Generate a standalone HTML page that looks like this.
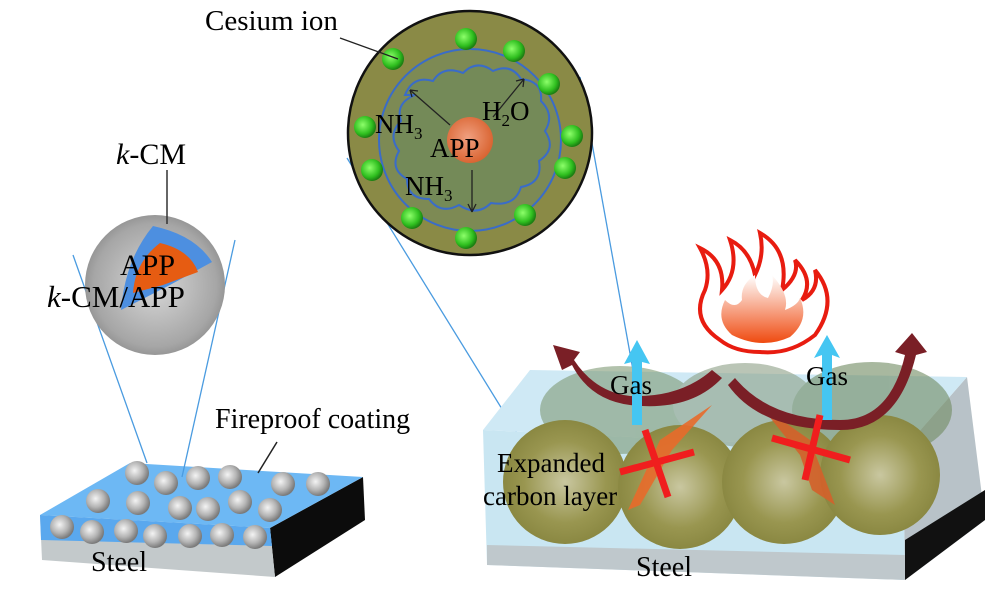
<!DOCTYPE html>
<html><head><meta charset="utf-8"><style>
html,body{margin:0;padding:0;background:#fff;}
svg{display:block;font-family:"Liberation Serif",serif;}
</style></head><body>
<svg width="1000" height="593" viewBox="0 0 1000 593" xmlns="http://www.w3.org/2000/svg">
<defs>
<radialGradient id="gs" cx="40%" cy="40%" r="60%"><stop offset="0" stop-color="#f4f4f4"/><stop offset="0.6" stop-color="#b4b4b4"/><stop offset="1" stop-color="#7a7a7a"/></radialGradient>
<radialGradient id="big" cx="50%" cy="50%" r="55%"><stop offset="0" stop-color="#d8d8d8"/><stop offset="0.8" stop-color="#a6a6a6"/><stop offset="1" stop-color="#8a8a8a"/></radialGradient>
<radialGradient id="gr" cx="40%" cy="40%" r="60%"><stop offset="0" stop-color="#8dff6a"/><stop offset="0.7" stop-color="#2fbf1f"/><stop offset="1" stop-color="#1c7f12"/></radialGradient>
<radialGradient id="or" cx="45%" cy="45%" r="60%"><stop offset="0" stop-color="#f0a080"/><stop offset="1" stop-color="#d8602c"/></radialGradient>
<radialGradient id="cb" cx="50%" cy="50%" r="55%"><stop offset="0" stop-color="#c9c7a0"/><stop offset="0.6" stop-color="#999650"/><stop offset="1" stop-color="#86843e"/></radialGradient>
<linearGradient id="fl" x1="0" y1="0" x2="0" y2="1"><stop offset="0" stop-color="#fff"/><stop offset="1" stop-color="#ef4a10"/></linearGradient>
</defs>

<polygon points="270,528 363,477 365,520 275,577" fill="#0c0c0c"/>
<polygon points="40,515 270,528 275,577 42,560" fill="#c3c9cb"/>
<polygon points="40,515 270,528 272,546 41,540" fill="#5aa8ee"/>
<polygon points="40,515 130,463 363,477 270,528" fill="#6db8f4"/>
<g fill="url(#gs)">
<circle cx="137" cy="473" r="12"/><circle cx="166" cy="483" r="12"/><circle cx="198" cy="478" r="12"/><circle cx="230" cy="477" r="12"/><circle cx="283" cy="484" r="12"/><circle cx="318" cy="484" r="12"/>
<circle cx="98" cy="501" r="12"/><circle cx="138" cy="503" r="12"/><circle cx="180" cy="508" r="12"/><circle cx="208" cy="509" r="12"/><circle cx="240" cy="502" r="12"/><circle cx="270" cy="510" r="12"/>
<circle cx="62" cy="527" r="12"/><circle cx="92" cy="532" r="12"/><circle cx="126" cy="531" r="12"/><circle cx="155" cy="536" r="12"/><circle cx="190" cy="536" r="12"/><circle cx="222" cy="535" r="12"/><circle cx="255" cy="537" r="12"/>
</g>
<line x1="258" y1="473" x2="277" y2="442" stroke="#222" stroke-width="1.5"/>
<text x="215" y="428" font-size="28">Fireproof coating</text>
<text x="91" y="571" font-size="28">Steel</text>

<line x1="73" y1="255" x2="147" y2="463" stroke="#4a9be0" stroke-width="1.3"/>
<line x1="235" y1="240" x2="182" y2="477" stroke="#4a9be0" stroke-width="1.3"/>

<circle cx="155" cy="285" r="70" fill="url(#big)"/>
<path d="M153,226 Q195,235 212,262 L170,285 L121,310 Q125,260 153,226Z" fill="#4d8fe0"/>
<path d="M160,243 Q190,250 198,272 L163,285 L133,293 Q135,262 160,243Z" fill="#e65c12"/>
<line x1="167" y1="170" x2="167" y2="224" stroke="#333" stroke-width="1.5"/>
<text x="116" y="164" font-size="30"><tspan font-style="italic">k</tspan>-CM</text>
<text x="120" y="275" font-size="30">APP</text>
<text x="47" y="307" font-size="31"><tspan font-style="italic">k</tspan>-CM/APP</text>

<line x1="347" y1="158" x2="523" y2="443" stroke="#4a9be0" stroke-width="1.3"/>
<line x1="580" y1="77" x2="633" y2="370" stroke="#4a9be0" stroke-width="1.3"/>

<circle cx="470" cy="133" r="122" fill="#8a8a46" stroke="#111" stroke-width="2.5"/>
<circle cx="470" cy="140" r="91" fill="#7d8a54" stroke="#3a6cc8" stroke-width="2"/>
<path d="M405,95 q8,-20 28,-14 q10,-16 30,-8 q14,-14 30,-2 q18,-8 28,8 q22,2 20,22 q14,14 4,30 q12,18 -6,30 q4,22 -18,26 q-6,20 -30,16 q-14,14 -32,2 q-18,10 -30,-6 q-22,0 -22,-20 q-18,-10 -8,-28 q-12,-16 2,-30 q-6,-18 14,-26z" fill="#748a58" stroke="#3a6cc8" stroke-width="2"/>
<g fill="url(#gr)">
<circle cx="466" cy="39" r="11"/><circle cx="514" cy="51" r="11"/><circle cx="549" cy="84" r="11"/><circle cx="572" cy="136" r="11"/><circle cx="565" cy="168" r="11"/><circle cx="525" cy="215" r="11"/><circle cx="466" cy="238" r="11"/><circle cx="412" cy="218" r="11"/><circle cx="372" cy="170" r="11"/><circle cx="365" cy="127" r="11"/><circle cx="393" cy="59" r="11"/>
</g>
<line x1="340" y1="38" x2="398" y2="59" stroke="#222" stroke-width="1.3"/>
<text x="205" y="30" font-size="29">Cesium ion</text>
<circle cx="470" cy="140" r="23" fill="url(#or)"/>
<g stroke="#222" stroke-width="1.3" fill="none">
<line x1="450" y1="125" x2="410" y2="90"/><path d="M410,90 l8,1 M410,90 l2,7"/>
<line x1="493" y1="117" x2="524" y2="79"/><path d="M524,79 l-8,2 M524,79 l-1,8"/>
<line x1="472" y1="170" x2="472" y2="212"/><path d="M472,212 l-4,-8 M472,212 l4,-8"/>
</g>
<text x="375" y="133" font-size="27">NH<tspan font-size="17" dy="6">3</tspan></text>
<text x="482" y="120" font-size="27">H<tspan font-size="17" dy="6">2</tspan><tspan dy="-6">O</tspan></text>
<text x="430" y="157" font-size="27">APP</text>
<text x="405" y="195" font-size="27">NH<tspan font-size="17" dy="6">3</tspan></text>

<polygon points="903,450 967,377 985,520 905,580" fill="#b8c2c8"/>
<polygon points="905,540 985,490 985,520 905,580" fill="#111"/>
<polygon points="483,430 903,450 905,580 487,565" fill="#c9e6f2"/>
<polygon points="487,545 905,555 905,580 487,565" fill="#bfc8cc"/>
<polygon points="483,430 530,370 967,377 903,450" fill="#cfe9f5"/>
<g opacity="0.6">
<ellipse cx="620" cy="410" rx="80" ry="44" fill="#7f9a74"/>
<ellipse cx="745" cy="405" rx="72" ry="42" fill="#8da086"/>
<ellipse cx="872" cy="410" rx="80" ry="48" fill="#6f8a60"/>
</g>
<circle cx="565" cy="482" r="62" fill="url(#cb)"/>
<circle cx="680" cy="487" r="62" fill="url(#cb)"/>
<circle cx="784" cy="482" r="62" fill="url(#cb)"/>
<circle cx="880" cy="475" r="60" fill="url(#cb)"/>
<text x="497" y="472" font-size="27">Expanded</text>
<text x="483" y="505" font-size="27">carbon layer</text>
<text x="636" y="576" font-size="28">Steel</text>
<path d="M628,510 L660,440 L712,405 L672,450 L640,505Z" fill="#e86a2a" opacity="0.9"/>
<path d="M835,505 L810,440 L760,405 L800,455 L812,490Z" fill="#d4602a" opacity="0.9"/>
<path d="M722,378 Q690,412 630,405 Q590,400 572,365 L562,370 L553,345 L580,352 L574,360 Q595,392 630,396 Q680,398 712,370Z" fill="#7a1f26"/>
<path d="M735,378 Q770,420 840,420 Q890,420 905,355 L895,352 L912,333 L927,352 L916,355 Q898,430 840,430 Q760,430 728,385Z" fill="#7a1f26"/>
<path d="M632,425 L632,362 L624,364 L637,340 L650,364 L642,362 L642,425Z" fill="#45c6f2"/>
<path d="M822,420 L822,355 L814,358 L827,335 L840,358 L832,355 L832,420Z" fill="#45c6f2"/>
<text x="610" y="394" font-size="27">Gas</text>
<text x="806" y="385" font-size="27">Gas</text>
<g stroke="#f01e1e" stroke-width="7">
<line x1="620" y1="472" x2="694" y2="452"/><line x1="645" y1="430" x2="668" y2="497"/>
<line x1="772" y1="438" x2="850" y2="460"/><line x1="820" y1="415" x2="805" y2="480"/>
</g>
<path d="M720,340 Q690,320 705,290 Q712,270 700,248 Q725,260 722,290 Q740,270 730,240 Q750,250 755,275 Q765,255 760,233 Q790,250 782,290 Q800,275 795,260 Q815,280 802,300 Q820,290 815,270 Q840,300 815,335 Q790,355 760,352 Q735,352 720,340Z" fill="#fff" stroke="#e81c10" stroke-width="4"/>
<path d="M732,335 Q715,320 725,300 Q735,310 742,300 Q740,285 755,275 Q755,295 768,298 Q775,285 772,275 Q790,295 785,310 Q798,305 800,298 Q810,320 790,337 Q762,350 732,335Z" fill="url(#fl)"/>
</svg>
</body></html>
